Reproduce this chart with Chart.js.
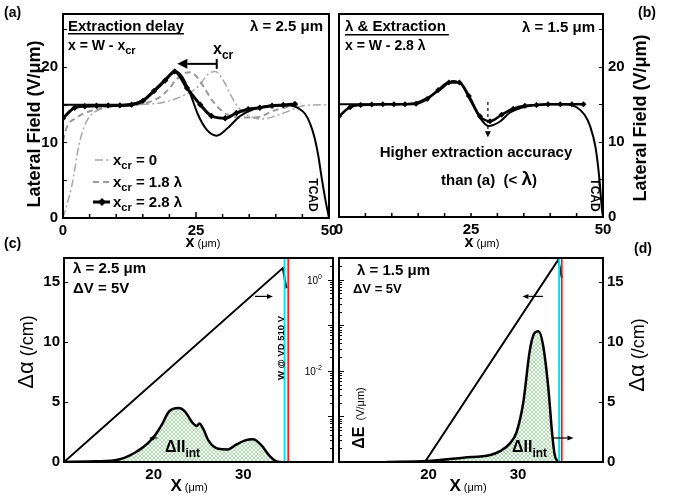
<!DOCTYPE html>
<html><head><meta charset="utf-8">
<script src="https://cdn.jsdelivr.net/npm/chart.js@4.4.0/dist/chart.umd.min.js"></script>
<style>
html,body{margin:0;padding:0;background:#fff;}
#wrap{position:relative;width:673px;height:497px;overflow:hidden;background:#fff;}
canvas{position:absolute;left:0;top:0;}
</style></head><body>
<div id="wrap">
<canvas id="ca" width="673" height="497"></canvas>
<canvas id="cb" width="673" height="497"></canvas>
<canvas id="cc" width="673" height="497"></canvas>
<canvas id="cd" width="673" height="497"></canvas>
</div>
<script>
// ---------------- DATA ----------------
// Panel (a): lambda = 2.5 um
const aTcadX = [0, 5, 10, 13, 15, 17, 19, 20.5, 21.3, 22.5, 24, 25.3, 27, 28.9, 30.8, 33.3, 35.8, 39.5, 42.7, 44.3, 45.5, 46.5, 47.3, 48, 48.6, 49.3, 50];
const aTcadY = [15, 15, 15, 15.1, 15.6, 16.8, 18.2, 19.1, 19.4, 18.6, 16.3, 13.8, 11.7, 10.9, 11.8, 13.5, 14.4, 14.9, 14.9, 14.5, 13.8, 12.4, 10.6, 8.2, 5.4, 2.5, 0];
const aExtX = [0, 2.2, 4.1, 6.3, 8.5, 10.7, 12.9, 15.0, 17.1, 19.2, 21.0, 23.3, 25.8, 27.9, 30.5, 32.6, 34.8, 37.0, 39.3, 41.4, 43.6];
const aExtY = [13.2, 14.6, 14.8, 14.85, 14.9, 14.9, 15.0, 15.5, 16.8, 18.2, 19.4, 17.2, 15.0, 13.5, 13.2, 13.9, 14.4, 14.6, 14.85, 14.95, 15.1];
const aD18X = [0, 0.7, 2.6, 4.5, 7, 10, 14, 16.4, 18.2, 19.8, 21.4, 23.0, 24.0, 25.0, 26.5, 27.9, 29.5, 31.1, 33.5, 36.1, 40, 43.6, 45];
const aD18Y = [10.2, 12.0, 13.3, 14.0, 14.5, 14.8, 15.0, 15.4, 16.0, 17.0, 18.4, 19.2, 19.3, 18.8, 17.3, 15.7, 14.4, 13.6, 13.3, 13.3, 14.3, 14.9, 15.0];
const aD0X = [0, 1.6, 3.2, 4.5, 7, 10, 14, 18, 20, 22.6, 25.1, 26.1, 27.2, 28.6, 30.3, 31.5, 33, 35, 37.3, 41.1, 45.5, 50];
const aD0Y = [0, 4.1, 10.3, 12.9, 14.4, 14.8, 15.0, 15.2, 15.5, 16.2, 17.2, 18.0, 19.0, 19.4, 18.0, 16.3, 14.6, 13.5, 13.1, 13.8, 14.9, 15.0];
// Panel (b): lambda = 1.5 um
const bTcadX = [0, 10, 14, 16.6, 19.1, 21.6, 23.2, 24.8, 26.7, 28.3, 30.5, 32.4, 35.5, 40, 43, 45, 46.5, 47.5, 48.6, 49.3, 49.8, 50];
const bTcadY = [15, 15, 15.1, 15.8, 16.9, 18.1, 17.6, 15.6, 13.2, 12.1, 12.7, 13.9, 14.7, 15.0, 15.0, 14.6, 13.6, 12.2, 9.2, 5.2, 1.0, 0];
const bExtX = [0, 2.1, 4.1, 6.2, 8.3, 10.4, 12.5, 14.6, 16.7, 18.8, 20.8, 22.8, 24.6, 26.7, 28.6, 30.8, 33.0, 35.2, 37.4, 39.6, 41.9, 44.1, 46.3];
const bExtY = [13.4, 14.6, 14.9, 14.95, 15.0, 15.0, 15.0, 15.05, 15.7, 16.9, 17.9, 17.9, 16.1, 13.4, 12.75, 13.6, 14.4, 14.8, 14.9, 15.0, 15.0, 15.0, 15.0];
// Panel (c): lambda = 2.5 um, dV = 5 V
const cIIx = [10, 12.8, 15.7, 17.9, 19.8, 20.9, 21.7, 22.8, 23.5, 24.3, 24.8, 25.1, 25.5, 26.1, 27.2, 28.3, 29.1, 30.2, 31.1, 32.0, 33.0, 33.7, 34.2];
const cIIy = [0, 0.05, 0.15, 0.77, 1.9, 3.1, 4.2, 4.5, 4.2, 3.3, 3.0, 3.2, 2.8, 1.8, 1.1, 1.05, 1.4, 1.8, 1.9, 1.4, 0.45, 0.05, 0];
const cEx = [10, 34.4, 34.8];
const cEy = [1e-4, 1.8, 0.65];
const cWallX = [34.6, 35.0];
// Panel (d): lambda = 1.5 um, dV = 5 V
const dIIx = [15.3, 19.8, 23.9, 26.9, 28.0, 29.1, 29.85, 30.6, 31.3, 31.8, 32.3, 32.8, 33.4, 33.8, 34.1, 34.5];
const dIIy = [0, 0.08, 0.36, 0.58, 0.9, 1.55, 2.5, 5, 9.2, 10.7, 10.9, 9.75, 6.1, 2.5, 0.6, 0];
const dEx = [19.6, 34.5, 34.9];
const dEy = [1e-4, 2.75, 1.1];
const dWallX = [34.6, 34.9];
// tick labels
const abTicksX = [0, 25, 50];
const abTicksY = [0, 10, 20];
const cdTicksX = [20, 30];
const cdTicksY = [0, 5, 10, 15];
const logTicks = [1, 0.01];
const logTickExp = ['0', '-2'];
const wallColors = ['#00e5f0', '#ff0000'];

// ---------------- HELPERS ----------------
const FF = '"Liberation Sans", Arial, Helvetica, sans-serif';
const tickFont = {family: FF, size: 15, weight: 'bold'};
const pts = (xs, ys) => xs.map((x, i) => ({x: x, y: ys[i]}));
const fixTicks = vals => s => { s.ticks = vals.map(v => ({value: v})); };
function lin(min, max, pos, vals, fit, pad, extra) {
  return Object.assign({
    type: 'linear', min: min, max: max, position: pos,
    grid: {display: false, drawTicks: false}, border: {display: false},
    ticks: {font: tickFont, color: '#000', padding: pad, autoSkip: false, maxRotation: 0, minRotation: 0},
    afterBuildTicks: fixTicks(vals), afterFit: fit
  }, extra || {});
}
const W = w => s => { s.width = w; };
const H = h => s => { s.height = h; };

function hatch() {
  const c = document.createElement('canvas'); c.width = 4; c.height = 4;
  const g = c.getContext('2d');
  g.fillStyle = '#f7fbf7'; g.fillRect(0, 0, 4, 4);
  g.strokeStyle = '#a3d3a3'; g.lineWidth = 0.8;
  g.beginPath(); g.moveTo(0, 0); g.lineTo(4, 4); g.moveTo(4, 0); g.lineTo(0, 4); g.stroke();
  return g.createPattern(c, 'repeat');
}

function T(ctx, s, x, y, size, o) {
  o = o || {};
  ctx.save();
  ctx.font = (o.w || 'bold') + ' ' + size + 'px ' + FF;
  ctx.fillStyle = '#000'; ctx.textAlign = o.a || 'left'; ctx.textBaseline = o.b || 'alphabetic';
  ctx.translate(x, y); if (o.rot) ctx.rotate(o.rot);
  ctx.fillText(s, 0, 0);
  const w = ctx.measureText(s).width;
  ctx.restore();
  return w;
}
function R(ctx, runs, x, y, o) {
  o = o || {};
  ctx.save(); ctx.translate(x, y); if (o.rot) ctx.rotate(o.rot);
  ctx.fillStyle = '#000'; ctx.textAlign = 'left'; ctx.textBaseline = 'alphabetic';
  const f = r => (r[2] || 'bold') + ' ' + r[1] + 'px ' + FF;
  let w = 0; runs.forEach(r => { ctx.font = f(r); w += ctx.measureText(r[0]).width; });
  let cx = o.align === 'center' ? -w / 2 : (o.align === 'right' ? -w : 0);
  const dy0 = o.mid ? Math.max.apply(null, runs.map(r => r[1])) * 0.36 : 0;
  runs.forEach(r => { ctx.font = f(r); ctx.fillText(r[0], cx, dy0 + (r[3] || 0)); cx += ctx.measureText(r[0]).width; });
  ctx.restore();
  return w;
}
function arrow(ctx, x1, y1, x2, y2, o) {
  o = o || {};
  const hl = o.head || 8, lw = o.lw || 1.5, hw = o.hw || hl * 0.45;
  ctx.save(); ctx.strokeStyle = '#000'; ctx.fillStyle = '#000'; ctx.lineWidth = lw;
  if (o.dash) ctx.setLineDash(o.dash);
  const ang = Math.atan2(y2 - y1, x2 - x1);
  const bx = x2 - hl * Math.cos(ang), by = y2 - hl * Math.sin(ang);
  ctx.beginPath(); ctx.moveTo(x1, y1); ctx.lineTo(bx, by); ctx.stroke();
  ctx.setLineDash([]);
  ctx.beginPath(); ctx.moveTo(x2, y2);
  ctx.lineTo(bx + hw * Math.sin(ang), by - hw * Math.cos(ang));
  ctx.lineTo(bx - hw * Math.sin(ang), by + hw * Math.cos(ang));
  ctx.closePath(); ctx.fill();
  ctx.restore();
}
function frame(chart, ctx) {
  const a = chart.chartArea;
  ctx.save(); ctx.strokeStyle = '#000'; ctx.lineWidth = 2;
  ctx.strokeRect(a.left, a.top, a.right - a.left, a.bottom - a.top);
  ctx.restore();
}
function ticksX(chart, ctx, id, vals, len) {
  const s = chart.scales[id], a = chart.chartArea;
  ctx.save(); ctx.strokeStyle = '#000'; ctx.lineWidth = 1.5; ctx.beginPath();
  vals.forEach(v => { const p = s.getPixelForValue(v); ctx.moveTo(p, a.bottom); ctx.lineTo(p, a.bottom - len); });
  ctx.stroke(); ctx.restore();
}
function ticksY(chart, ctx, id, vals, lenFn, side) {
  const s = chart.scales[id], a = chart.chartArea;
  ctx.save(); ctx.strokeStyle = '#000'; ctx.lineWidth = 1; ctx.beginPath();
  vals.forEach(v => {
    const p = Math.round(s.getPixelForValue(v)) + 0.5, len = lenFn(v);
    if (side === 'left') { ctx.moveTo(a.left, p); ctx.lineTo(a.left + len, p); }
    else { ctx.moveTo(a.right, p); ctx.lineTo(a.right - len, p); }
  });
  ctx.stroke(); ctx.restore();
}
function logMinor() {
  const out = [];
  for (let d = -4; d <= 0; d++) for (let m = 1; m <= 9; m++) { const v = m * Math.pow(10, d); if (v <= 3) out.push(v); }
  return out;
}
const isDecade = v => Math.abs(Math.log10(v) - Math.round(Math.log10(v))) < 1e-6;
function deco(fn) { return {id: 'deco', afterDraw(chart) { const ctx = chart.ctx; ctx.save(); fn(chart, ctx); ctx.restore(); }}; }
function legendLine(ctx, ds, x1, x2, y) {
  ctx.save(); ctx.strokeStyle = ds.borderColor; ctx.lineWidth = ds.borderWidth;
  ctx.setLineDash(ds.borderDash || []);
  ctx.beginPath(); ctx.moveTo(x1, y); ctx.lineTo(x2, y); ctx.stroke();
  ctx.restore();
}
function diamond(ctx, x, y, r) {
  ctx.save(); ctx.fillStyle = '#000'; ctx.beginPath();
  ctx.moveTo(x, y - r); ctx.lineTo(x + r, y); ctx.lineTo(x, y + r); ctx.lineTo(x - r, y); ctx.closePath(); ctx.fill(); ctx.restore();
}
const base = pad => ({
  responsive: false, animation: false, events: [], devicePixelRatio: 1,
  layout: {padding: pad},
  plugins: {legend: {display: false}, tooltip: {enabled: false}},
  elements: {point: {radius: 0}, line: {cubicInterpolationMode: 'monotone'}}
});
const LOGMAX = 3, LOGMIN = 1e-4;

// ---------------- PANEL (a) ----------------
const dsExtA = {data: pts(aExtX, aExtY), borderColor: '#000', borderWidth: 3, pointRadius: 3.2, pointStyle: 'rectRot', pointBackgroundColor: '#000', pointBorderColor: '#000', pointBorderWidth: 0};
const dsTcadA = {data: pts(aTcadX, aTcadY), borderColor: '#000', borderWidth: 2};
const dsD18A = {data: pts(aD18X, aD18Y), borderColor: '#9a9a9a', borderWidth: 2, borderDash: [6, 4]};
const dsD0A = {data: pts(aD0X, aD0Y), borderColor: '#a8a8a8', borderWidth: 1.5, borderDash: [8, 3, 2, 3]};
const optA = base({left: 33, top: 13, right: 344, bottom: 259});
optA.scales = {
  x: lin(0, 50, 'bottom', abTicksX, H(20), 4),
  y: lin(0, 27, 'left', abTicksY, W(30), 5)
};
new Chart(document.getElementById('ca'), {
  type: 'line', data: {datasets: [dsExtA, dsTcadA, dsD18A, dsD0A]}, options: optA,
  plugins: [deco((chart, ctx) => {
    const X = v => chart.scales.x.getPixelForValue(v), Y = v => chart.scales.y.getPixelForValue(v);
    frame(chart, ctx);
    ticksX(chart, ctx, 'x', [5, 10, 15, 20, 30, 35, 40, 45], 4);
    ticksX(chart, ctx, 'x', [25], 6);
    ticksY(chart, ctx, 'y', [5, 10, 15, 20, 25], v => 4, 'left');
    T(ctx, '(a)', 4, 17, 14);
    const w = T(ctx, 'Extraction delay', 68, 31, 15);
    ctx.fillRect(68, 33, w, 1.5);
    R(ctx, [['x = W - x', 14], ['cr', 11, 'bold', 4]], 68, 50);
    T(ctx, 'λ = 2.5 μm', 323, 31, 15, {a: 'right'});
    R(ctx, [['x', 16], ['cr', 12, 'bold', 5]], 213, 54);
    arrow(ctx, X(28.9), Y(20.4), X(21.5), Y(20.4), {head: 10, hw: 5, lw: 2});
    ctx.fillRect(X(28.9) - 1, Y(20.4) - 5, 2, 10);
    // legend
    legendLine(ctx, dsD0A, 95, 110, 160);
    R(ctx, [['x', 15], ['cr', 11, 'bold', 4], [' = 0', 15]], 113, 165);
    legendLine(ctx, dsD18A, 93, 110, 182);
    R(ctx, [['x', 15], ['cr', 11, 'bold', 4], [' = 1.8 λ', 15]], 113, 187);
    legendLine(ctx, dsExtA, 93, 110, 202);
    diamond(ctx, 102, 202, 4);
    R(ctx, [['x', 15], ['cr', 11, 'bold', 4], [' = 2.8 λ', 15]], 113, 207);
    T(ctx, 'TCAD', 312, 195, 12, {a: 'center', b: 'middle', rot: Math.PI / 2});
    T(ctx, 'Lateral Field (V/μm)', 35, 124, 18, {a: 'center', b: 'middle', rot: -Math.PI / 2});
    R(ctx, [['x', 16], [' (μm)', 11, 'normal']], 203, 247, {align: 'center'});
  })]
});

// ---------------- PANEL (b) ----------------
const dsExtB = {data: pts(bExtX, bExtY), borderColor: '#000', borderWidth: 2.5, pointRadius: 3, pointStyle: 'rectRot', pointBackgroundColor: '#000', pointBorderColor: '#000', pointBorderWidth: 0};
const dsTcadB = {data: pts(bTcadX, bTcadY), borderColor: '#000', borderWidth: 2};
const optB = base({left: 339, top: 13, right: 40, bottom: 260});
optB.scales = {
  x: lin(0, 50, 'bottom', abTicksX, H(20), 4),
  y: lin(0, 27, 'right', abTicksY, W(30), 5)
};
new Chart(document.getElementById('cb'), {
  type: 'line', data: {datasets: [dsExtB, dsTcadB]}, options: optB,
  plugins: [deco((chart, ctx) => {
    const X = v => chart.scales.x.getPixelForValue(v), Y = v => chart.scales.y.getPixelForValue(v);
    frame(chart, ctx);
    ticksX(chart, ctx, 'x', [5, 10, 15, 20, 25, 30, 35, 40, 45], 4);
    ticksY(chart, ctx, 'y', [5, 10, 15, 20, 25], v => 4, 'right');
    T(ctx, '(b)', 647, 17, 14, {a: 'center'});
    const w = T(ctx, 'λ & Extraction', 345, 31, 15);
    ctx.fillRect(345, 34, w + 3, 1.5);
    T(ctx, 'x = W - 2.8 λ', 345, 50, 14);
    T(ctx, 'λ = 1.5 μm', 595, 32, 15, {a: 'right'});
    arrow(ctx, X(28.2), Y(15.3), X(28.2), Y(10.6), {head: 6, hw: 3, lw: 1.2, dash: [3, 3]});
    T(ctx, 'Higher extraction accuracy', 476, 157, 15, {a: 'center'});
    R(ctx, [['than (a)  (< ', 15], ['λ', 19], [')', 15]], 489, 185, {align: 'center'});
    T(ctx, 'TCAD', 594, 195, 12, {a: 'center', b: 'middle', rot: Math.PI / 2});
    T(ctx, 'Lateral Field (V/μm)', 641, 118, 18, {a: 'center', b: 'middle', rot: -Math.PI / 2});
    R(ctx, [['x', 16], [' (μm)', 11, 'normal']], 482, 247, {align: 'center'});
  })]
});

// ---------------- PANEL (c) ----------------
const pat = hatch();
const optC = base({left: 34, top: 258, right: 340, bottom: 15});
optC.scales = {
  x: lin(10, 40, 'bottom', cdTicksX, H(20), 4),
  y: lin(0, 17, 'left', cdTicksY, W(30), 4),
  y2: {type: 'logarithmic', min: LOGMIN, max: LOGMAX, position: 'right', display: false}
};
const wallsC = cWallX.map((x, i) => ({data: pts([x, x], [0, 17]), borderColor: wallColors[i], borderWidth: i === 0 ? 2 : 1.5, yAxisID: 'y', cubicInterpolationMode: 'default', tension: 0}));
new Chart(document.getElementById('cc'), {
  type: 'line',
  data: {datasets: wallsC.concat([
    {data: pts(cEx, cEy), borderColor: '#000', borderWidth: 2, yAxisID: 'y2', tension: 0, cubicInterpolationMode: 'default'},
    {data: pts(cIIx, cIIy), borderColor: '#000', borderWidth: 2.5, yAxisID: 'y', fill: 'origin', backgroundColor: pat}
  ])},
  options: optC,
  plugins: [deco((chart, ctx) => {
    const X = v => chart.scales.x.getPixelForValue(v), Y = v => chart.scales.y.getPixelForValue(v);
    const a = chart.chartArea;
    frame(chart, ctx);
    ticksY(chart, ctx, 'y2', logMinor(), v => isDecade(v) ? 5 : 3, 'right');
    ticksY(chart, ctx, 'y', [5, 10, 15], v => 4, 'left');
    // log axis tick labels (mirrored inside)
    logTicks.forEach((v, i) => {
      const p = chart.scales.y2.getPixelForValue(v);
      R(ctx, [['10', 10, 'normal'], [logTickExp[i], 7, 'normal', -5]], a.right - 11, p + 4, {align: 'right'});
    });
    T(ctx, '(c)', 4, 248, 14);
    T(ctx, 'λ = 2.5 μm', 73, 273, 15);
    T(ctx, 'ΔV = 5V', 73, 293, 15);
    R(ctx, [['ΔII', 16], ['int', 12, 'bold', 5]], 165, 452);
    arrow(ctx, X(20.4), Y(2.0), X(19.5), Y(2.0), {head: 5, hw: 2.5, lw: 1.2});
    arrow(ctx, X(31.3), Y(13.8), X(33.3), Y(13.8), {head: 6, hw: 2.5, lw: 1.2});
    T(ctx, 'W @ VD 510 V', 281, 348, 9.5, {a: 'center', b: 'middle', rot: -Math.PI / 2});
    R(ctx, [['Δα', 22, 'normal'], [' (/cm)', 18, 'normal']], 25, 352, {align: 'center', rot: -Math.PI / 2, mid: true});
    R(ctx, [['X', 17], [' (μm)', 11, 'normal']], 189, 491, {align: 'center'});
  })]
});

// ---------------- PANEL (d) ----------------
const optD = base({left: 339, top: 258, right: 42, bottom: 15});
optD.scales = {
  x: lin(10, 39.5, 'bottom', cdTicksX, H(20), 4),
  yL: {type: 'logarithmic', min: LOGMIN, max: LOGMAX, position: 'left', display: false},
  yR: lin(0, 17, 'right', cdTicksY, W(28), 4)
};
const wallsD = dWallX.map((x, i) => ({data: pts([x, x], [0, 17]), borderColor: wallColors[i], borderWidth: i === 0 ? 2 : 1.5, yAxisID: 'yR', tension: 0, cubicInterpolationMode: 'default'}));
new Chart(document.getElementById('cd'), {
  type: 'line',
  data: {datasets: wallsD.concat([
    {data: pts(dEx, dEy), borderColor: '#000', borderWidth: 2, yAxisID: 'yL', tension: 0, cubicInterpolationMode: 'default'},
    {data: pts(dIIx, dIIy), borderColor: '#000', borderWidth: 2.5, yAxisID: 'yR', fill: 'origin', backgroundColor: pat}
  ])},
  options: optD,
  plugins: [deco((chart, ctx) => {
    const X = v => chart.scales.x.getPixelForValue(v), Y = v => chart.scales.yR.getPixelForValue(v);
    frame(chart, ctx);
    ticksY(chart, ctx, 'yL', logMinor(), v => isDecade(v) ? 5 : 3, 'left');
    ticksY(chart, ctx, 'yR', [5, 10, 15], v => 4, 'right');
    T(ctx, '(d)', 643, 253, 14, {a: 'center'});
    T(ctx, 'λ = 1.5 μm', 357, 275, 15);
    T(ctx, 'ΔV = 5V', 353, 293, 13);
    arrow(ctx, X(32.8), Y(13.8), X(30.5), Y(13.8), {head: 6, hw: 2.5, lw: 1.2});
    R(ctx, [['ΔII', 16], ['int', 12, 'bold', 5]], 512, 452);
    arrow(ctx, X(33.9), Y(2.0), X(36.2), Y(2.0), {head: 6, hw: 2.5, lw: 1.2});
    R(ctx, [['ΔE', 16], ['  (V/μm)', 11, 'normal']], 358, 418, {align: 'center', rot: -Math.PI / 2, mid: true});
    R(ctx, [['Δα', 22, 'normal'], [' (/cm)', 18, 'normal']], 636, 355, {align: 'center', rot: -Math.PI / 2, mid: true});
    R(ctx, [['X', 17], [' (μm)', 11, 'normal']], 468, 491, {align: 'center'});
  })]
});
</script>
</body></html>
